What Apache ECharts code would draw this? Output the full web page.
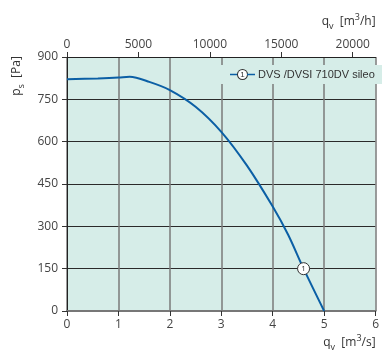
<!DOCTYPE html>
<html>
<head>
<meta charset="utf-8">
<script src="https://cdn.jsdelivr.net/npm/echarts@6/dist/echarts.min.js"></script>
<style>
  html, body { margin: 0; padding: 0; background: #fff; }
  #chart { width: 382px; height: 360px; }
</style>
</head>
<body>
<div id="chart"></div>
<script>
  // flow rate [m3/s] and static pressure [Pa]
  const flowRate = [0, 0.6, 1, 1.22, 1.6, 2, 2.5, 3, 3.5, 4, 4.3, 4.6, 5]
  const pressure = [821, 824, 827, 830, 812, 783, 724, 635, 515, 370, 270, 150, 0]
  const markerPoint = [4.6, 150]
  const seriesName = 'DVS /DVSI 710DV sileo'

  const lineColor = '#0b5fa5'
  const plotBg = '#d6ede8'
  const font = 'Open Sans'

  const subRich = {
    a: { fontSize: 12, fontFamily: font, color: '#333', lineHeight: 18, verticalAlign: 'middle' },
    s: { fontSize: 9, fontFamily: font, color: '#333', lineHeight: 18, verticalAlign: 'bottom' },
    p: { fontSize: 9, fontFamily: font, color: '#333', lineHeight: 18, verticalAlign: 'top' }
  }

  let chart = echarts.init(document.getElementById('chart'))
  chart.setOption({
    animation: false,
    textStyle: { fontFamily: font },
    grid: {
      left: 67, right: 5, top: 57, bottom: 49,
      show: true, backgroundColor: plotBg, borderWidth: 0
    },
    legend: {
      data: [{ name: seriesName, icon: 'none' }],
      left: 221, top: 65,
      itemWidth: 0, itemHeight: 0, itemGap: 0,
      backgroundColor: plotBg,
      padding: [4, 8, 4, 4],
      formatter: n => '{l| }{c|1}{l| }{g| }' + n,
      textStyle: {
        fontSize: 11, color: '#333', fontFamily: 'Liberation Sans',
        rich: {
          l: { width: 8, height: 1.5, backgroundColor: lineColor },
          c: {
            width: 9, height: 9, borderRadius: 6, borderColor: '#333', borderWidth: 1,
            backgroundColor: '#fff', align: 'center', fontSize: 8, lineHeight: 10, color: '#333'
          },
          g: { width: 3 }
        }
      }
    },
    xAxis: [
      {
        type: 'value', position: 'bottom', min: 0, max: 6, interval: 1,
        name: '{a|q}{s|v}{a|  [m}{p|3}{a|/s]}',
        nameLocation: 'end', nameGap: 0,
        nameTextStyle: { align: 'right', verticalAlign: 'top', padding: [23, 0, 0, 0], rich: subRich },
        axisLine: { lineStyle: { color: '#777', width: 2 } },
        axisTick: { length: 5, lineStyle: { color: '#333' } },
        axisLabel: { fontSize: 12, color: '#444', margin: 8 },
        splitLine: { lineStyle: { color: '#7a7a7a', width: 1.5 } }
      },
      {
        type: 'value', position: 'top', min: 0, max: 21600, interval: 5000,
        name: '{a|q}{s|v}{a|  [m}{p|3}{a|/h]}',
        nameLocation: 'end', nameGap: 0,
        nameTextStyle: { align: 'right', verticalAlign: 'bottom', padding: [0, 0, 26, 0], rich: subRich },
        axisLine: { lineStyle: { color: '#222', width: 1 } },
        axisTick: { length: 5, lineStyle: { color: '#333' } },
        axisLabel: { fontSize: 12, color: '#444', margin: 6, showMaxLabel: false, formatter: v => String(v) },
        splitLine: { show: false }
      }
    ],
    yAxis: {
      type: 'value', min: 0, max: 900, interval: 150,
      axisLine: { show: true, lineStyle: { color: '#222', width: 1 } },
      axisTick: { show: true, length: 5, lineStyle: { color: '#333' } },
      axisLabel: { fontSize: 12, color: '#444', margin: 9 },
      splitLine: { lineStyle: { color: '#2a2a2a', width: 1 } }
    },
    graphic: [
      {
        type: 'text', x: 17, y: 76, rotation: Math.PI / 2,
        style: {
          text: '{a|p}{s|s}{a|  [Pa]}',
          align: 'center', verticalAlign: 'middle',
          rich: {
            a: { fontSize: 12, fontFamily: font, fill: '#333', lineHeight: 18, verticalAlign: 'middle' },
            s: { fontSize: 9, fontFamily: font, fill: '#333', lineHeight: 18, verticalAlign: 'bottom' }
          }
        }
      }
    ],
    series: [
      {
        name: seriesName,
        type: 'line',
        xAxisIndex: 0,
        data: flowRate.map((x, i) => [x, pressure[i]]),
        smooth: 0.3,
        showSymbol: false,
        lineStyle: { color: lineColor, width: 2 },
        itemStyle: { color: lineColor },
        z: 3
      },
      {
        name: 'marker',
        type: 'scatter',
        xAxisIndex: 0,
        data: [markerPoint],
        symbol: 'circle',
        symbolSize: 12,
        itemStyle: { color: '#fff', borderColor: '#333', borderWidth: 1, opacity: 1 },
        label: { show: true, position: 'inside', formatter: '1', fontSize: 8, color: '#333' },
        z: 4
      }
    ]
  })
</script>
</body>
</html>
